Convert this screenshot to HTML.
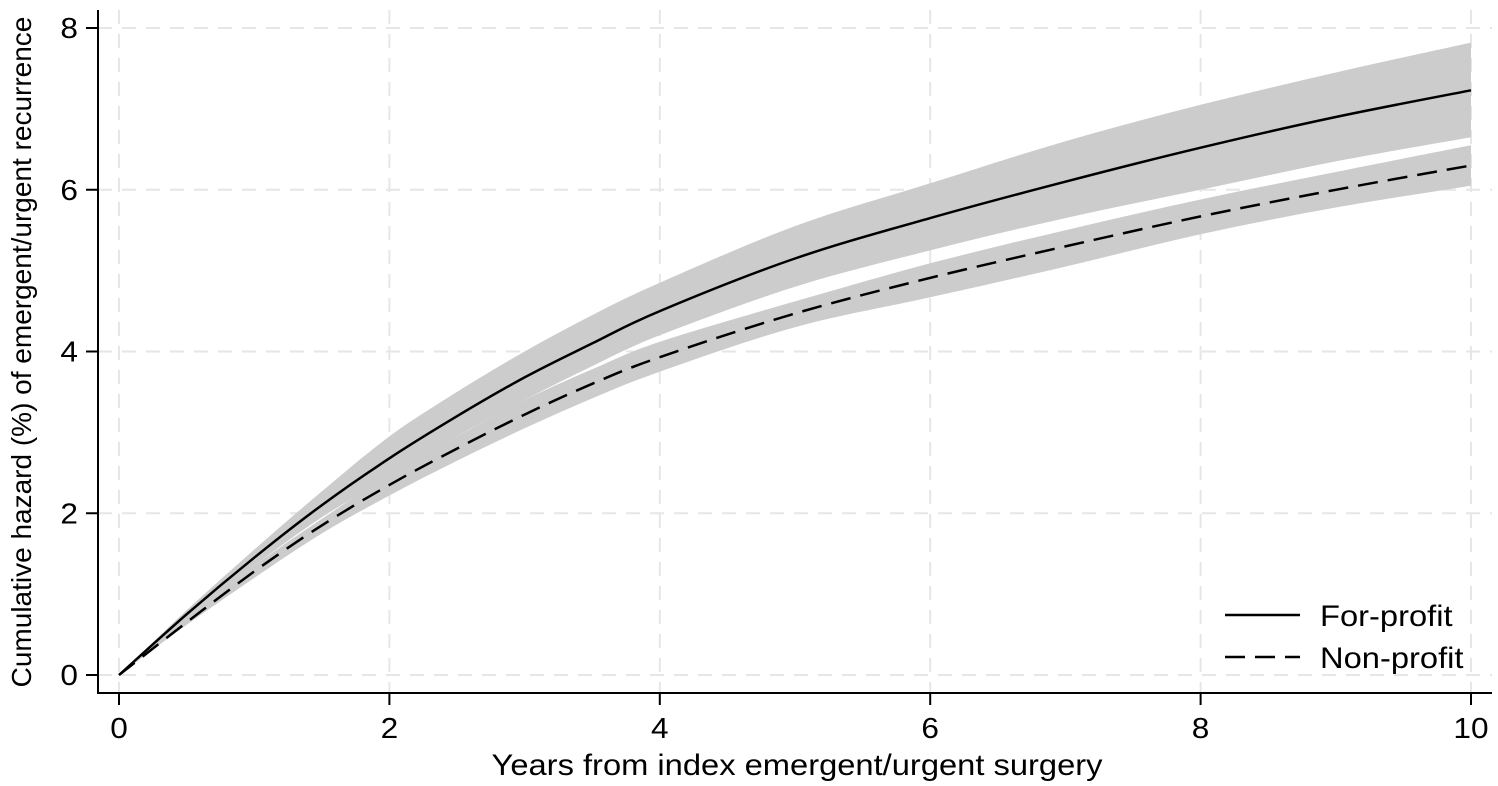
<!DOCTYPE html>
<html><head><meta charset="utf-8"><style>
html,body{margin:0;padding:0;background:#fff;}
svg{display:block;font-family:"Liberation Sans",sans-serif;}
</style></head><body>
<svg id="chart" width="1498" height="786" viewBox="0 0 1498 786" xmlns="http://www.w3.org/2000/svg">
<g id="grid"></g>
<g id="bands"></g>
<g id="lines"></g>
<g id="axes"></g>
<text transform="translate(31,352) rotate(-90)" text-anchor="middle" font-size="28">Cumulative hazard (%) of emergent/urgent recurrence</text>
<text transform="translate(797,775) scale(1.09,1)" text-anchor="middle" font-size="30">Years from index emergent/urgent surgery</text>
<g>
<line x1="1225" y1="615" x2="1300" y2="615" stroke="#000" stroke-width="2.5"/>
<text transform="translate(1320,626) scale(1.09,1)" font-size="30">For-profit</text>
<line x1="1225" y1="657" x2="1300" y2="657" stroke="#000" stroke-width="2.5" stroke-dasharray="20,10"/>
<text transform="translate(1320,668) scale(1.09,1)" font-size="30">Non-profit</text>
</g>
</svg>
<script>
const years = [0,0.5,1,1.5,2,2.5,3,3.5,4,5,6,7,8,9,10];
const forProfit = [0,0.75,1.45,2.1,2.68,3.2,3.68,4.1,4.5,5.15,5.65,6.1,6.52,6.9,7.23];
const forProfitUpper = [0,0.8,1.55,2.27,2.95,3.5,4.0,4.45,4.85,5.55,6.08,6.6,7.05,7.45,7.82];
const forProfitLower = [0,0.7,1.35,1.95,2.45,2.95,3.4,3.82,4.2,4.8,5.25,5.65,6.0,6.35,6.65];
const nonProfit = [0,0.65,1.28,1.85,2.35,2.8,3.22,3.6,3.93,4.47,4.91,5.3,5.67,6.0,6.3];
const nonProfitUpper = [0,0.7,1.35,1.93,2.48,2.95,3.4,3.78,4.12,4.62,5.09,5.5,5.88,6.22,6.55];
const nonProfitLower = [0,0.62,1.2,1.75,2.22,2.65,3.05,3.42,3.75,4.3,4.67,5.05,5.45,5.78,6.05];
const xTicks = [0,2,4,6,8,10];
const yTicks = [0,2,4,6,8];

const NS='http://www.w3.org/2000/svg';
function sx(v){return 119+v*135.2;}
function sy(v){return 675-v*80.875;}
function mk(tag,attrs,parent){const e=document.createElementNS(NS,tag);for(const k in attrs)e.setAttribute(k,attrs[k]);parent.appendChild(e);return e;}
function P(xs,ys){return xs.map((x,i)=>[sx(x),sy(ys[i])]);}
function smooth(p,start){
  let d=start?('M'+p[0][0].toFixed(1)+','+p[0][1].toFixed(1)):('L'+p[0][0].toFixed(1)+','+p[0][1].toFixed(1));
  for(let i=0;i<p.length-1;i++){
    const p0=p[Math.max(0,i-1)],p1=p[i],p2=p[i+1],p3=p[Math.min(p.length-1,i+2)];
    const c1=[p1[0]+(p2[0]-p0[0])/6,p1[1]+(p2[1]-p0[1])/6];
    const c2=[p2[0]-(p3[0]-p1[0])/6,p2[1]-(p3[1]-p1[1])/6];
    d+=' C'+c1[0].toFixed(1)+','+c1[1].toFixed(1)+' '+c2[0].toFixed(1)+','+c2[1].toFixed(1)+' '+p2[0].toFixed(1)+','+p2[1].toFixed(1);
  }
  return d;
}

const grid=document.getElementById('grid');
xTicks.forEach(t=>{const l=mk('line',{x1:sx(t),x2:sx(t),y1:10,y2:693,stroke:'#e6e6e6','stroke-width':2,'stroke-dasharray':'14,10'},grid);

});
yTicks.forEach(t=>{const l=mk('line',{x1:98,x2:1492,y1:sy(t),y2:sy(t),stroke:'#e6e6e6','stroke-width':2,'stroke-dasharray':'14,10'},grid);

});

const bands=document.getElementById('bands');
function band(up,lo,name){
  const d=smooth(P(years,up),true)+' '+smooth(P(years,lo).reverse(),false)+' Z';
  const e=mk('path',{d:d,fill:'#cccccc'},bands);
  
  
}
band(forProfitUpper,forProfitLower,'for-profit-ci-band');
band(nonProfitUpper,nonProfitLower,'non-profit-ci-band');

const lines=document.getElementById('lines');
const l1=mk('path',{d:smooth(P(years,forProfit),true),fill:'none',stroke:'#000','stroke-width':2.5},lines);


const l2=mk('path',{d:smooth(P(years,nonProfit),true),fill:'none',stroke:'#000','stroke-width':2.5,'stroke-dasharray':'20,10'},lines);



const axes=document.getElementById('axes');
const ya=mk('line',{x1:98,x2:98,y1:10,y2:694,stroke:'#000','stroke-width':2},axes);


const xa=mk('line',{x1:97,x2:1492,y1:693,y2:693,stroke:'#000','stroke-width':2},axes);


yTicks.forEach(t=>{
  const tk=mk('line',{x1:86,x2:98,y1:sy(t),y2:sy(t),stroke:'#000','stroke-width':2},axes);
  
  
  const tx=mk('text',{transform:'translate(78,'+(sy(t)+10)+') scale(1.09,1)','text-anchor':'end','font-size':29},axes);
  tx.textContent=String(t);
  
  
});
xTicks.forEach(t=>{
  const tk=mk('line',{x1:sx(t),x2:sx(t),y1:693,y2:705,stroke:'#000','stroke-width':2},axes);
  
  
  const tx=mk('text',{transform:'translate('+sx(t)+',738) scale(1.09,1)','text-anchor':'middle','font-size':29},axes);
  tx.textContent=String(t);
  
  
});
</script>
</body></html>
